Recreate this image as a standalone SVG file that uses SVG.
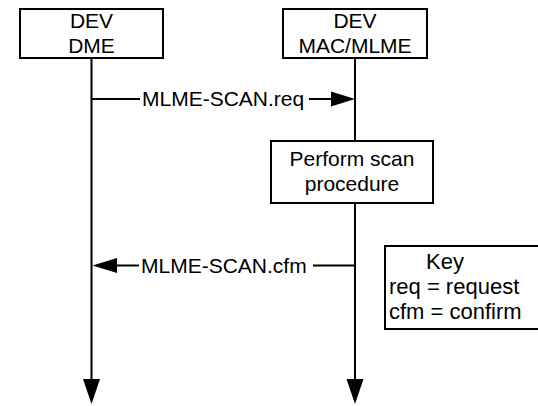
<svg xmlns="http://www.w3.org/2000/svg" width="538" height="406" viewBox="0 0 538 406">
<style>
.box{fill:#fff;stroke:#000;stroke-width:2}
.ln{stroke:#000;stroke-width:2;fill:none}
.t{font-family:"Liberation Sans",Arial,sans-serif;font-size:21px;fill:#000}
.k{font-size:22px}
.c{text-anchor:middle}
</style>
<rect width="538" height="406" fill="#fff"/>
<g id="connectors">
<line class="ln" x1="91.5" y1="58" x2="91.5" y2="382"/>
<polygon points="83,379 100,379 91.5,404"/>
<line class="ln" x1="355" y1="58" x2="355" y2="141"/>
<line class="ln" x1="355" y1="203" x2="355" y2="382"/>
<polygon points="346.5,379 363.5,379 355,404"/>
<line class="ln" x1="91.5" y1="99" x2="140" y2="99"/>
<line class="ln" x1="309" y1="99" x2="332" y2="99"/>
<polygon points="331,91.5 355,99 331,106.5"/>
<text class="t" x="142" y="105.5">MLME-SCAN.req</text>
<line class="ln" x1="116" y1="265.5" x2="139" y2="265.5"/>
<line class="ln" x1="313" y1="265.5" x2="356" y2="265.5"/>
<polygon points="117,258 92.5,265.5 117,273"/>
<text class="t" x="141" y="272.5">MLME-SCAN.cfm</text>
</g>
<g id="dme">
<rect class="box" x="20" y="9" width="143" height="49"/>
<text class="t c" x="91.5" y="28">DEV</text>
<text class="t c" x="91.5" y="52.5">DME</text>
</g>
<g id="mlme">
<rect class="box" x="283" y="9" width="144" height="49"/>
<text class="t c" x="355" y="28">DEV</text>
<text class="t c" x="355" y="52.5">MAC/MLME</text>
</g>
<g id="scan">
<rect class="box" x="271" y="141" width="162" height="62"/>
<text class="t c" x="352" y="166">Perform scan</text>
<text class="t c" x="352" y="191">procedure</text>
</g>
<g id="key">
<rect class="box" x="385" y="246" width="160" height="83"/>
<text class="t k" x="426" y="269">Key</text>
<text class="t k" x="389" y="294">req = request</text>
<text class="t k" x="389" y="319">cfm = confirm</text>
</g>
</svg>
